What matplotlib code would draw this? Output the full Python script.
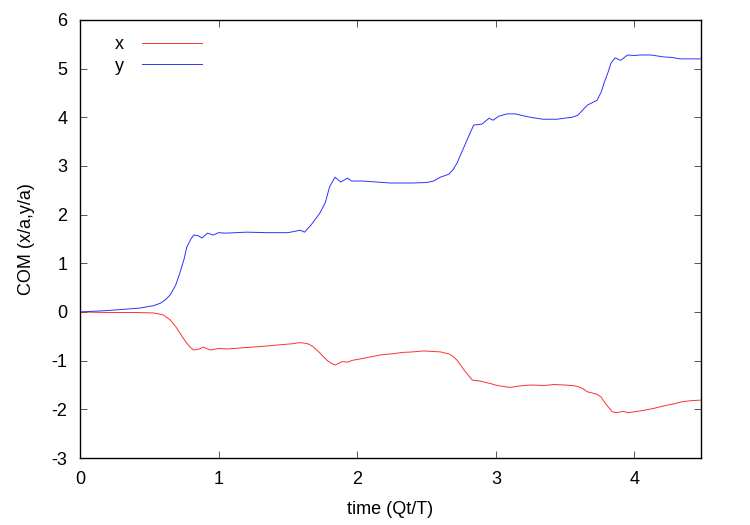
import numpy as np
import matplotlib
matplotlib.use("Agg")
import matplotlib.pyplot as plt

plt.rcParams['font.family'] = ['Liberation Sans', 'DejaVu Sans']
plt.rcParams['axes.unicode_minus'] = False

# COM x (red)
t_x = [0.0, 0.2, 0.4, 0.53, 0.6, 0.65, 0.69, 0.72, 0.75, 0.77, 0.8, 0.82, 0.86, 0.89, 0.92, 0.94,
       1.0, 1.06, 1.2, 1.3, 1.42, 1.54, 1.58, 1.62, 1.65, 1.68, 1.73, 1.78, 1.81, 1.84, 1.87,
       1.89, 1.93, 1.97, 2.05, 2.17, 2.25, 2.33, 2.4, 2.48, 2.54, 2.6, 2.66, 2.69, 2.72, 2.77,
       2.83, 2.89, 2.93, 2.96, 3.01, 3.1, 3.17, 3.25, 3.35, 3.42, 3.49, 3.55, 3.59, 3.63, 3.66,
       3.73, 3.76, 3.78, 3.81, 3.84, 3.87, 3.92, 3.95, 4.0, 4.07, 4.14, 4.21, 4.28, 4.35, 4.42,
       4.48]
com_x = [0.0, -0.01, -0.01, -0.02, -0.06, -0.16, -0.3, -0.43, -0.56, -0.64, -0.74, -0.78, -0.76,
         -0.72, -0.76, -0.78, -0.75, -0.76, -0.73, -0.71, -0.68, -0.65, -0.63, -0.64, -0.66,
         -0.71, -0.84, -0.99, -1.05, -1.09, -1.05, -1.02, -1.03, -0.99, -0.95, -0.88, -0.86,
         -0.83, -0.82, -0.80, -0.81, -0.82, -0.86, -0.91, -0.99, -1.19, -1.40, -1.42, -1.45,
         -1.47, -1.51, -1.55, -1.52, -1.50, -1.51, -1.49, -1.50, -1.51, -1.53, -1.58, -1.64,
         -1.69, -1.75, -1.84, -1.95, -2.05, -2.07, -2.04, -2.07, -2.05, -2.02, -1.98, -1.93,
         -1.89, -1.84, -1.82, -1.81]

# COM y (blue)
t_y = [0.0, 0.2, 0.43, 0.53, 0.58, 0.62, 0.65, 0.69, 0.72, 0.75, 0.77, 0.8, 0.82, 0.85, 0.88,
       0.92, 0.96, 1.0, 1.05, 1.2, 1.35, 1.5, 1.59, 1.62, 1.67, 1.73, 1.77, 1.8, 1.84, 1.88,
       1.93, 1.96, 2.04, 2.14, 2.24, 2.4, 2.5, 2.55, 2.6, 2.66, 2.69, 2.72, 2.77, 2.81, 2.84,
       2.9, 2.95, 2.98, 3.02, 3.08, 3.14, 3.2, 3.25, 3.34, 3.44, 3.49, 3.55, 3.59, 3.66, 3.73,
       3.76, 3.78, 3.81, 3.83, 3.86, 3.9, 3.95, 4.0, 4.04, 4.12, 4.21, 4.27, 4.33, 4.4, 4.48]
com_y = [0.0, 0.03, 0.08, 0.13, 0.18, 0.26, 0.35, 0.55, 0.8, 1.08, 1.33, 1.5, 1.58, 1.57, 1.52,
         1.62, 1.58, 1.63, 1.62, 1.64, 1.63, 1.63, 1.68, 1.64, 1.80, 2.03, 2.25, 2.57, 2.77,
         2.67, 2.75, 2.69, 2.69, 2.67, 2.65, 2.65, 2.66, 2.69, 2.77, 2.83, 2.92, 3.06, 3.39,
         3.65, 3.84, 3.86, 3.98, 3.94, 4.02, 4.07, 4.07, 4.03, 4.0, 3.96, 3.96, 3.98, 4.0, 4.04,
         4.25, 4.35, 4.52, 4.7, 4.93, 5.11, 5.22, 5.17, 5.28, 5.27, 5.28, 5.28, 5.24, 5.23,
         5.2, 5.2, 5.2]

fig = plt.figure(figsize=(7.5, 5.25), dpi=100)
ax = fig.add_axes([0.1067, 0.1276, 0.828, 0.8344])

ax.plot(t_x, com_x, color='#ff3030', linewidth=0.7, label='x')
ax.plot(t_y, com_y, color='#3030ff', linewidth=0.7, label='y')

ax.set_xlim(0, 4.48)
ax.set_ylim(-3, 6)
ax.set_xticks([0, 1, 2, 3, 4])
ax.set_yticks(range(-3, 7))
ax.tick_params(direction='in', top=True, right=True, length=5, width=0.7,
               color='#555555', labelsize=13, pad=9)
for s in ax.spines.values():
    s.set_linewidth(1.0)

ax.set_xlabel('time (Qt/T)', fontsize=13, labelpad=10)
ax.set_ylabel('COM (x/a,y/a)', fontsize=13, labelpad=12)

leg = ax.legend(loc='upper left', bbox_to_anchor=(0.03, 1.0), frameon=False,
                markerfirst=False, fontsize=13, handlelength=3.3,
                labelspacing=0.25, handletextpad=1.0)

plt.savefig('out.png', dpi=100)
